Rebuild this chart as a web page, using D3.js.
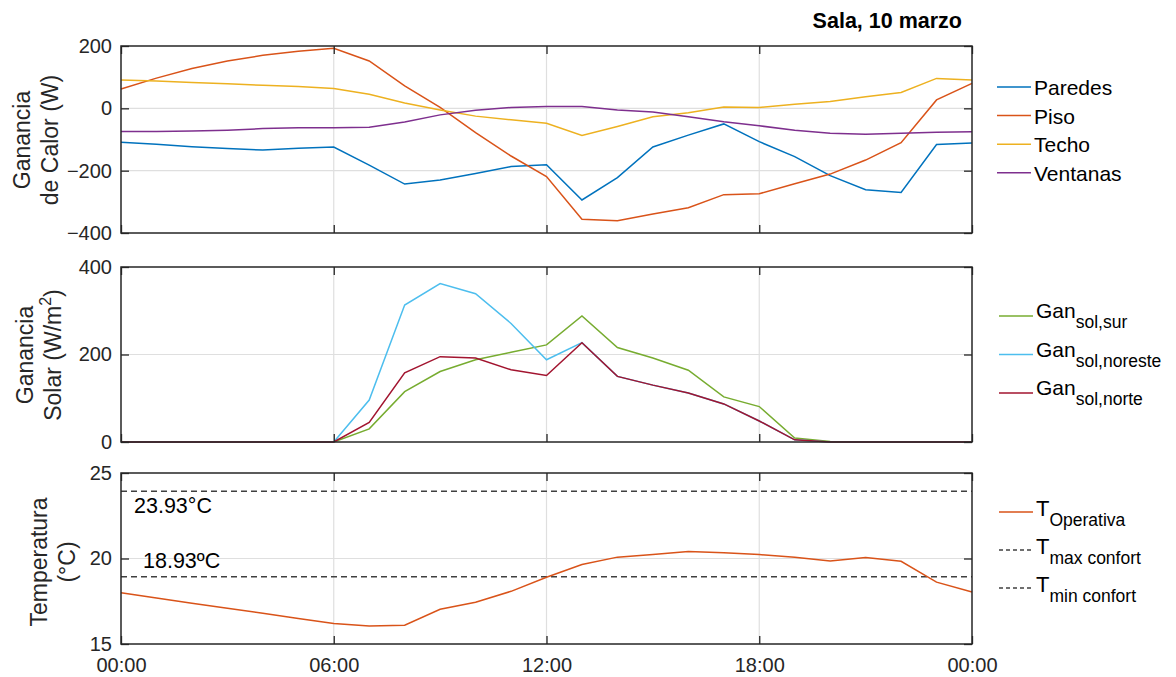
<!DOCTYPE html>
<html>
<head>
<meta charset="utf-8">
<script src="https://cdn.jsdelivr.net/npm/d3@7"></script>
<style>
  body { margin: 0; background: #fff; }
  svg { font-family: "Liberation Sans", Arial, sans-serif; }
</style>
</head>
<body>
<div id="chart"></div>
<script>
// hours of the day (0..24)
const hours = [0,1,2,3,4,5,6,7,8,9,10,11,12,13,14,15,16,17,18,19,20,21,22,23,24];

// top panel: ganancia de calor (W)
const paredes  = [-109,-115,-123,-129,-134,-128,-124,-182,-243,-230,-209,-187,-181,-294,-222,-124,-86,-50,-107,-155,-216,-261,-270,-116,-111];
const piso     = [62,97,128,152,170,183,193,152,72,3,-78,-153,-219,-356,-361,-339,-319,-277,-274,-242,-211,-166,-110,27,80];
const techo    = [91,88,83,79,74,70,64,45,17,-5,-25,-37,-48,-87,-58,-27,-14,4,3,13,22,37,51,96,91];
const ventanas = [-74,-74,-73,-70,-65,-62,-62,-61,-44,-21,-6,3,6,6,-5,-12,-27,-43,-56,-70,-80,-83,-80,-77,-75];

// middle panel: ganancia solar (W/m2)
const solSur     = [0,0,0,0,0,0,0,30,115,161,188,205,222,288,216,192,164,103,81,9,1,0,0,0,0];
const solNoreste = [0,0,0,0,0,0,0,96,313,362,339,271,188,227,150,130,112,87,48,5,0,0,0,0,0];
const solNorte   = [0,0,0,0,0,0,0,45,158,195,192,165,152,227,150,130,112,87,48,5,0,0,0,0,0];

// bottom panel: temperatura (°C)
const tOperativa = [18.00,17.69,17.38,17.09,16.80,16.49,16.20,16.05,16.10,17.03,17.44,18.08,18.90,19.65,20.08,20.23,20.41,20.33,20.23,20.08,19.86,20.06,19.84,18.62,18.04];
const tMaxConfort = 23.93;
const tMinConfort = 18.93;

const xTicks = [0, 6, 12, 18, 24];
const xTickLabels = ['00:00', '06:00', '12:00', '18:00', '00:00'];
const yTicksTop = [-400, -200, 0, 200];
const yTicksMid = [0, 200, 400];
const yTicksBot = [15, 20, 25];

const W = 1176, H = 677;
const left = 121, right = 972;
const axisColor = '#262626', gridColor = '#dfdfdf';

const svg = d3.select('#chart').append('svg')
	.attr('width', W)
	.attr('height', H);

const x = d3.scaleLinear().domain([0, 24]).range([left, right]);

function panel(top, bottom, domain, yTicks) {
	const y = d3.scaleLinear().domain(domain).range([bottom, top]);
	const g = svg.append('g');

	// grid
	g.append('g').selectAll('line.vg')
		.data(xTicks.slice(1, -1)).join('line')
		.attr('x1', d => x(d)).attr('x2', d => x(d))
		.attr('y1', top).attr('y2', bottom)
		.attr('stroke', gridColor).attr('stroke-width', 1.2);
	g.append('g').selectAll('line.hg')
		.data(yTicks.slice(1, -1)).join('line')
		.attr('x1', left).attr('x2', right)
		.attr('y1', d => y(d)).attr('y2', d => y(d))
		.attr('stroke', gridColor).attr('stroke-width', 1.2);

	const data = g.append('g');
	const frame = g.append('g');
	return { y, data, frame, top, bottom, yTicks };
}

function finishAxes(p, showX) {
	const f = p.frame;
	const yl = f.append('g').attr('transform', `translate(${left},0)`)
		.call(d3.axisLeft(p.y).tickValues(p.yTicks).tickSizeInner(-8).tickSizeOuter(0).tickPadding(9));
	const yr = f.append('g').attr('transform', `translate(${right},0)`)
		.call(d3.axisRight(p.y).tickValues(p.yTicks).tickSizeInner(-8).tickSizeOuter(0).tickFormat(''));
	const xt = f.append('g').attr('transform', `translate(0,${p.top})`)
		.call(d3.axisTop(x).tickValues(xTicks).tickSizeInner(-8).tickSizeOuter(0).tickFormat(''));
	const xb = f.append('g').attr('transform', `translate(0,${p.bottom})`)
		.call(d3.axisBottom(x).tickValues(xTicks).tickSizeInner(-8).tickSizeOuter(0).tickPadding(14)
			.tickFormat((d, i) => showX ? xTickLabels[i] : ''));
	[yl, yr, xt, xb].forEach(a => {
		a.select('.domain').remove();
		a.selectAll('line').attr('stroke', axisColor).attr('stroke-width', 1.3);
		a.selectAll('text').attr('fill', axisColor).attr('font-size', 20)
			.attr('font-family', '"Liberation Sans", Arial, sans-serif');
	});
	f.append('rect')
		.attr('x', left).attr('y', p.top)
		.attr('width', right - left).attr('height', p.bottom - p.top)
		.attr('fill', 'none').attr('stroke', axisColor).attr('stroke-width', 1.5);
}

function addLine(p, values, color, dash) {
	p.data.append('path')
		.datum(values)
		.attr('fill', 'none')
		.attr('stroke', color)
		.attr('stroke-width', 1.5)
		.attr('stroke-dasharray', dash || null)
		.attr('d', d3.line().x((d, i) => x(hours[i])).y(d => p.y(d)));
}

function yLabel(lines, cy) {
	const t = svg.append('text')
		.attr('transform', `translate(0,${cy}) rotate(-90)`)
		.attr('text-anchor', 'middle')
		.attr('font-size', 23)
		.attr('fill', axisColor);
	lines.forEach(l => {
		const tl = t.append('tspan').attr('x', 0).attr('y', l.x);
		l.parts.forEach(pt => {
			const s = tl.append('tspan').text(pt.text);
			if (pt.sup) s.attr('font-size', 16).attr('baseline-shift', '60%');
		});
	});
}

function legend(items, x0, y0, step, size, subSize) {
	items.forEach((it, i) => {
		const yy = y0 + i * step;
		svg.append('line')
			.attr('x1', x0).attr('x2', x0 + 34)
			.attr('y1', yy).attr('y2', yy)
			.attr('stroke', it.color).attr('stroke-width', 1.5)
			.attr('stroke-dasharray', it.dash || null);
		const t = svg.append('text')
			.attr('x', x0 + 37).attr('y', yy + it.dy)
			.attr('font-size', size).attr('fill', '#000');
		t.append('tspan').text(it.main);
		if (it.sub) t.append('tspan').attr('font-size', subSize).attr('dy', 10).text(it.sub);
	});
}

// ---- top panel
const p1 = panel(46, 233, [-400, 200], yTicksTop);
addLine(p1, paredes, '#0072BD');
addLine(p1, piso, '#D95319');
addLine(p1, techo, '#EDB120');
addLine(p1, ventanas, '#7E2F8E');
finishAxes(p1, false);

// ---- middle panel
const p2 = panel(267, 442, [0, 400], yTicksMid);
addLine(p2, solSur, '#77AC30');
addLine(p2, solNoreste, '#4DBEEE');
addLine(p2, solNorte, '#A2142F');
finishAxes(p2, false);

// ---- bottom panel
const p3 = panel(473, 644, [15, 25], yTicksBot);
addLine(p3, hours.map(() => tMaxConfort), '#404040', '6,4');
addLine(p3, hours.map(() => tMinConfort), '#404040', '6,4');
addLine(p3, tOperativa, '#D95319');
finishAxes(p3, true);

p3.data.append('text').attr('x', 134).attr('y', 513)
	.attr('font-size', 21.5).attr('fill', '#000').text('23.93°C');
p3.data.append('text').attr('x', 143).attr('y', 568)
	.attr('font-size', 21.5).attr('fill', '#000').text('18.93ºC');

// title
svg.append('text').attr('x', 962).attr('y', 28)
	.attr('text-anchor', 'end').attr('font-size', 21.5).attr('font-weight', 'bold')
	.attr('fill', '#000').text('Sala, 10 marzo');

// y labels
yLabel([{ x: 30, parts: [{ text: 'Ganancia' }] }, { x: 58, parts: [{ text: 'de Calor (W)' }] }], 140);
yLabel([{ x: 33, parts: [{ text: 'Ganancia' }] },
	{ x: 61, parts: [{ text: 'Solar (W/m' }, { text: '2', sup: true }, { text: ')' }] }], 355);
yLabel([{ x: 47, parts: [{ text: 'Temperatura' }] }, { x: 75, parts: [{ text: '(°C)' }] }], 562);

// legends
legend([
	{ main: 'Paredes', color: '#0072BD', dy: 8 },
	{ main: 'Piso', color: '#D95319', dy: 8 },
	{ main: 'Techo', color: '#EDB120', dy: 8 },
	{ main: 'Ventanas', color: '#7E2F8E', dy: 8 }
], 997, 87, 28.6, 21, 17);
legend([
	{ main: 'Gan', sub: 'sol,sur', color: '#77AC30', dy: 2 },
	{ main: 'Gan', sub: 'sol,noreste', color: '#4DBEEE', dy: 2 },
	{ main: 'Gan', sub: 'sol,norte', color: '#A2142F', dy: 2 }
], 999, 316, 38.5, 21, 17.5);
legend([
	{ main: 'T', sub: 'Operativa', color: '#D95319', dy: 4 },
	{ main: 'T', sub: 'max confort', color: '#404040', dash: '4,3', dy: 4 },
	{ main: 'T', sub: 'min confort', color: '#404040', dash: '4,3', dy: 4 }
], 999, 512, 38, 22, 17.5);
</script>
</body>
</html>
